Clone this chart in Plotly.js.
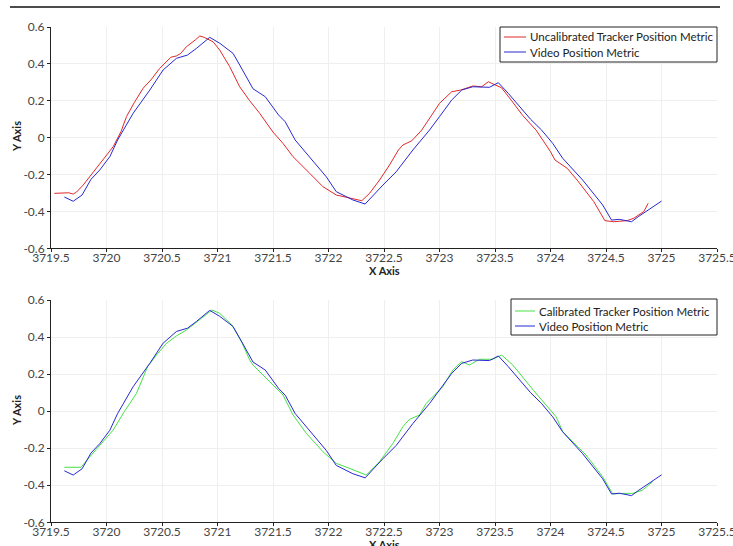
<!DOCTYPE html>
<html><head><meta charset="utf-8">
<script src="https://cdn.plot.ly/plotly-3.0.1.min.js"></script>
<style>html,body{margin:0;padding:0;background:#fff}#chart{width:733px;height:546px}</style>
</head><body><div id="chart"></div>
<script>
const videoX = [3719.62,3719.70,3719.78,3719.86,3719.94,3720.03,3720.10,3720.24,3720.39,3720.51,3720.63,3720.73,3720.81,3720.93,3721.02,3721.14,3721.20,3721.32,3721.43,3721.55,3721.61,3721.70,3721.98,3722.07,3722.22,3722.33,3722.49,3722.61,3722.76,3722.91,3723.00,3723.11,3723.20,3723.30,3723.45,3723.53,3723.62,3723.72,3723.82,3723.92,3724.02,3724.11,3724.29,3724.47,3724.55,3724.62,3724.73,3724.79,3725.00];
const videoY = [-0.322,-0.345,-0.311,-0.226,-0.175,-0.103,-0.013,0.132,0.258,0.367,0.430,0.448,0.484,0.544,0.512,0.457,0.394,0.265,0.222,0.123,0.086,-0.013,-0.212,-0.293,-0.338,-0.360,-0.257,-0.185,-0.067,0.041,0.114,0.204,0.258,0.276,0.273,0.298,0.240,0.170,0.100,0.041,-0.031,-0.112,-0.230,-0.365,-0.447,-0.443,-0.456,-0.429,-0.344];

const uncalX = [3719.53,3719.60,3719.66,3719.70,3719.73,3719.79,3719.85,3719.94,3720.06,3720.13,3720.18,3720.25,3720.33,3720.40,3720.48,3720.58,3720.63,3720.67,3720.72,3720.80,3720.84,3720.88,3720.96,3721.02,3721.11,3721.20,3721.29,3721.38,3721.50,3721.59,3721.68,3721.83,3721.95,3722.07,3722.19,3722.30,3722.37,3722.46,3722.55,3722.63,3722.67,3722.75,3722.84,3722.92,3723.00,3723.11,3723.19,3723.30,3723.38,3723.44,3723.50,3723.56,3723.65,3723.75,3723.87,3724.00,3724.04,3724.15,3724.24,3724.39,3724.49,3724.57,3724.69,3724.75,3724.84,3724.88];
const uncalY = [-0.302,-0.300,-0.299,-0.306,-0.295,-0.257,-0.212,-0.139,-0.049,0.032,0.114,0.190,0.268,0.313,0.376,0.436,0.443,0.457,0.493,0.530,0.551,0.544,0.520,0.475,0.385,0.276,0.200,0.132,0.030,-0.031,-0.103,-0.193,-0.266,-0.311,-0.329,-0.342,-0.302,-0.230,-0.148,-0.067,-0.040,-0.017,0.041,0.114,0.186,0.249,0.258,0.280,0.276,0.303,0.285,0.270,0.200,0.120,0.041,-0.076,-0.121,-0.166,-0.230,-0.347,-0.450,-0.456,-0.450,-0.437,-0.401,-0.356];

const calX = [3719.62,3719.77,3719.85,3719.94,3720.06,3720.16,3720.27,3720.37,3720.45,3720.54,3720.63,3720.72,3720.84,3720.95,3721.02,3721.13,3721.22,3721.29,3721.32,3721.41,3721.50,3721.59,3721.68,3721.80,3721.95,3722.07,3722.19,3722.34,3722.46,3722.58,3722.67,3722.73,3722.82,3722.88,3723.03,3723.12,3723.20,3723.27,3723.36,3723.48,3723.56,3723.66,3723.85,3724.05,3724.11,3724.32,3724.47,3724.56,3724.65,3724.74,3724.83,3724.92];
const calY = [-0.303,-0.303,-0.246,-0.183,-0.102,-0.003,0.096,0.240,0.303,0.366,0.406,0.438,0.496,0.546,0.528,0.465,0.370,0.276,0.249,0.195,0.141,0.087,-0.020,-0.120,-0.219,-0.282,-0.309,-0.345,-0.273,-0.174,-0.084,-0.044,-0.021,0.042,0.132,0.222,0.267,0.249,0.280,0.280,0.303,0.249,0.110,-0.030,-0.111,-0.237,-0.354,-0.447,-0.444,-0.444,-0.426,-0.381];

const xTicks = [3719.5,3720,3720.5,3721,3721.5,3722,3722.5,3723,3723.5,3724,3724.5,3725,3725.5];
const yTicks = [-0.6,-0.4,-0.2,0,0.2,0.4,0.6];
const topLegend = ['Uncalibrated Tracker Position Metric','Video Position Metric'];
const bottomLegend = ['Calibrated Tracker Position Metric','Video Position Metric'];

const RED = 'rgb(225,40,40)', BLUE = 'rgb(40,40,210)', GREEN = 'rgb(70,225,70)';
const FONT = 'Lato, "DejaVu Sans", sans-serif';
const W = 733, H = 546;
const px = v => v / W, py = v => 1 - v / H;

const traces = [
  {x: uncalX, y: uncalY, type:'scatter', mode:'lines', name:topLegend[0], line:{color:RED, width:1}, xaxis:'x', yaxis:'y', showlegend:false},
  {x: videoX, y: videoY, type:'scatter', mode:'lines', name:topLegend[1], line:{color:BLUE, width:1}, xaxis:'x', yaxis:'y', showlegend:false},
  {x: calX, y: calY, type:'scatter', mode:'lines', name:bottomLegend[0], line:{color:GREEN, width:1}, xaxis:'x2', yaxis:'y2', showlegend:false},
  {x: videoX, y: videoY, type:'scatter', mode:'lines', name:bottomLegend[1], line:{color:BLUE, width:1}, xaxis:'x2', yaxis:'y2', showlegend:false}
];

function xax(anchor){
  return {anchor: anchor, domain:[px(51), px(717)], range:[3719.5,3725.5], tickvals:xTicks, ticktext:xTicks.map(String),
    showline:true, linecolor:'#222', linewidth:1, ticks:'outside', ticklen:3, tickcolor:'#222',
    showgrid:true, gridcolor:'#efefef', gridwidth:1, zeroline:false, ticklabeloverflow:'allow', ticklabelstandoff:-5,
    tickfont:{family:FONT, size:12, color:'#444'}};
}
function yax(anchor, domain){
  return {anchor: anchor, domain: domain, range:[-0.6,0.6], tickvals:yTicks, ticktext:yTicks.map(v=>String(v)),
    showline:true, linecolor:'#222', linewidth:1, ticks:'outside', ticklen:3, tickcolor:'#222',
    showgrid:true, gridcolor:'#efefef', gridwidth:1, zeroline:false,
    tickfont:{family:FONT, size:12, color:'#444'}};
}

const annotations = [];
const shapes = [{type:'line', xref:'paper', yref:'paper', x0:px(10), x1:px(720), y0:py(7), y1:py(7), line:{color:'#111', width:1.5}}];
const titleFont = {family:FONT, size:11, color:'#222'};
[[270.5, 137], [544, 411]].forEach(([xt, yt]) => {
  annotations.push({xref:'paper', yref:'paper', x:px(384), y:py(xt), text:'<b>X Axis</b>', showarrow:false, font:titleFont, xanchor:'center', yanchor:'middle'});
  annotations.push({xref:'paper', yref:'paper', x:px(16), y:py(yt), text:'<b>Y Axis</b>', showarrow:false, font:titleFont, textangle:-90, xanchor:'center', yanchor:'middle'});
});
function addLegend(labels, colors, left, top, bottom, lineX0, lineX1, rows){
  shapes.push({type:'rect', xref:'paper', yref:'paper', x0:px(left), x1:px(717), y0:py(top), y1:py(bottom), line:{color:'#222', width:1}, fillcolor:'#fff', layer:'above'});
  labels.forEach((lab, i) => {
    shapes.push({type:'line', xref:'paper', yref:'paper', x0:px(lineX0), x1:px(lineX1), y0:py(rows[i]), y1:py(rows[i]), line:{color:colors[i], width:1}, layer:'above'});
    annotations.push({xref:'paper', yref:'paper', x:px(lineX1+2), y:py(rows[i]), text:lab, showarrow:false, xanchor:'left', yanchor:'middle', font:{family:FONT, size:11.5, color:'#222'}});
  });
}
addLegend(topLegend, [RED, BLUE], 500, 27, 62, 504, 526, [37, 52]);
addLegend(bottomLegend, [GREEN, BLUE], 511, 299, 335, 515, 535, [311, 326]);

const layout = {
  width:W, height:H, margin:{l:0,r:0,t:0,b:0},
  paper_bgcolor:'#fff', plot_bgcolor:'#fff', showlegend:false,
  xaxis: xax('y'), yaxis: yax('x', [py(248.3), py(27)]),
  xaxis2: xax('y2'), yaxis2: yax('x2', [py(522.3), py(300)]),
  shapes: shapes, annotations: annotations
};

Plotly.newPlot('chart', traces, layout, {displayModeBar:false, staticPlot:true});
</script>
</body></html>
